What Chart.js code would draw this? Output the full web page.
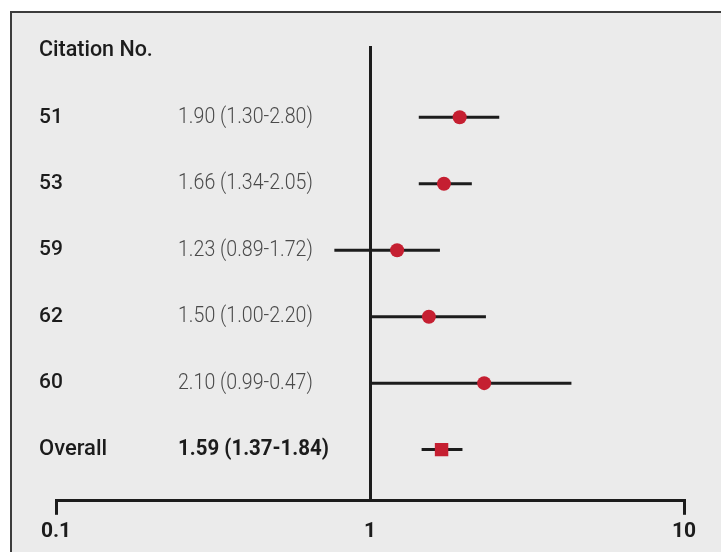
<!DOCTYPE html>
<html>
<head>
<meta charset="utf-8">
<script src="https://cdn.jsdelivr.net/npm/chart.js@4.4.1/dist/chart.umd.min.js"></script>
<style>
  html, body { margin: 0; padding: 0; background: #fff; }
  #frame {
    position: absolute; left: 10px; top: 11px; width: 711px; height: 541px;
    background: #ebebeb; border-top: 2px solid #3c3c3c; border-left: 2px solid #3c3c3c;
    box-sizing: border-box;
  }
  #wrap { position: absolute; left: 0; top: 0; width: 721px; height: 552px; }
</style>
</head>
<body>
<div id="frame"></div>
<div id="wrap"><canvas id="forest"></canvas></div>
<script>
// Study rows
const studies = ['51', '53', '59', '62', '60'];
const studyText = ['1.90 (1.30-2.80)', '1.66 (1.34-2.05)', '1.23 (0.89-1.72)', '1.50 (1.00-2.20)', '2.10 (0.99-0.47)'];
const estimates = [1.93, 1.72, 1.22, 1.54, 2.31];
const lower = [1.43, 1.43, 0.77, 1.00, 1.00];
const upper = [2.58, 2.11, 1.67, 2.34, 4.38];

// Pooled row
const overallLabel = 'Overall';
const overallText = '1.59 (1.37-1.84)';
const overallEstimate = 1.69;
const overallLower = 1.46;
const overallUpper = 1.97;

const headerLabel = 'Citation No.';
const xTicks = [0.1, 1, 10];

const INK = '#1c1c1c';
const RED = '#c51f31';

// one line dataset per confidence interval
const ciSets = studies.map((s, i) => ({
  type: 'line',
  data: [{ x: lower[i], y: i }, { x: upper[i], y: i }],
  borderColor: INK,
  borderWidth: 3,
  pointRadius: 0,
  order: 2
}));
ciSets.push({
  type: 'line',
  data: [{ x: overallLower, y: studies.length }, { x: overallUpper, y: studies.length }],
  borderColor: INK,
  borderWidth: 3,
  pointRadius: 0,
  order: 2
});

const rowText = {
  id: 'rowText',
  afterDraw(chart) {
    const { ctx } = chart;
    const y = chart.scales.y;
    ctx.save();
    ctx.textBaseline = 'middle';
    ctx.textAlign = 'left';
    ctx.fillStyle = INK;
    ctx.font = '500 21.5px Roboto';
    ctx.fillText(headerLabel, 39, y.getPixelForValue(-1));

    // the figure's digits are set in a condensed face
    const narrow = (txt, x, yy, k) => {
      ctx.save();
      ctx.translate(x, yy);
      ctx.scale(k, 1);
      ctx.fillText(txt, 0, 0);
      ctx.restore();
    };

    studies.forEach((s, i) => {
      const yy = y.getPixelForValue(i);
      ctx.fillStyle = INK;
      ctx.font = '500 21px Roboto';
      ctx.fillText(s, 39, yy);
      ctx.fillStyle = '#4a4a4a';
      ctx.font = '300 22px Roboto';
      narrow(studyText[i], 178, yy, 0.89);
    });

    const yo = y.getPixelForValue(studies.length);
    ctx.fillStyle = INK;
    ctx.font = '500 22px Roboto';
    ctx.fillText(overallLabel, 39, yo);
    ctx.font = 'bold 22px Roboto';
    narrow(overallText, 178, yo, 0.93);
    ctx.restore();
  }
};

new Chart(document.getElementById('forest'), {
  type: 'scatter',
  data: {
    datasets: [
      ...ciSets,
      {
        data: estimates.map((v, i) => ({ x: v, y: i })),
        backgroundColor: RED,
        borderWidth: 0,
        pointRadius: 7,
        pointHoverRadius: 7,
        order: 1
      },
      {
        data: [{ x: overallEstimate, y: studies.length }],
        backgroundColor: RED,
        borderWidth: 0,
        pointStyle: 'rect',
        pointRadius: 9.5,
        pointHoverRadius: 9.5,
        order: 1
      }
    ]
  },
  options: {
    responsive: true,
    maintainAspectRatio: false,
    animation: false,
    layout: { padding: { left: 56, right: 37, top: 46, bottom: 4 } },
    plugins: { legend: { display: false }, tooltip: { enabled: false } },
    scales: {
      x: {
        type: 'logarithmic',
        min: 0.1,
        max: 10,
        afterBuildTicks: (scale) => { scale.ticks = xTicks.map(v => ({ value: v })); },
        ticks: {
          autoSkip: false,
          maxRotation: 0,
          padding: 4,
          color: INK,
          font: { family: 'Roboto', size: 21, weight: 'bold' },
          callback: (v) => String(v)
        },
        grid: {
          drawOnChartArea: true,
          color: (c) => (c.tick && c.tick.value === 1 ? INK : 'rgba(0,0,0,0)'),
          tickColor: (c) => (c.tick && c.tick.value === 1 ? 'rgba(0,0,0,0)' : INK),
          lineWidth: 3,
          tickWidth: 3,
          tickLength: 14
        },
        border: { display: true, color: INK, width: 3 }
      },
      y: {
        type: 'linear',
        reverse: true,
        min: -1.073,
        max: 5.77,
        display: false
      }
    }
  },
  plugins: [rowText]
});
</script>
</body>
</html>
